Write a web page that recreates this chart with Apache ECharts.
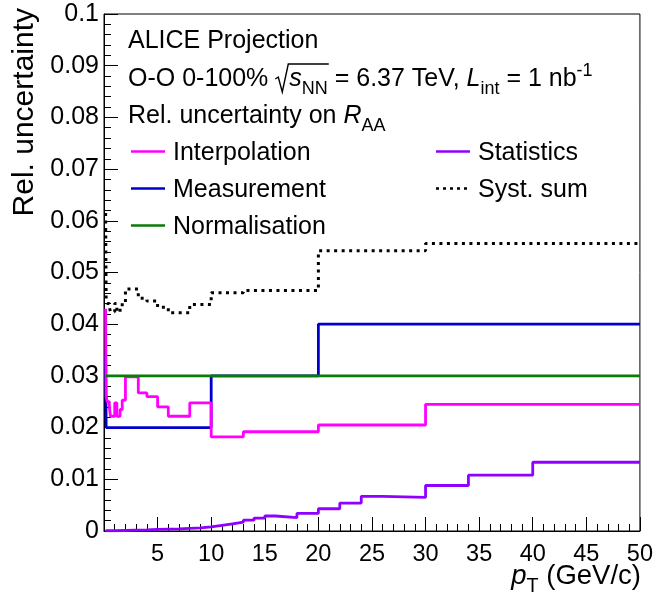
<!DOCTYPE html>
<html>
<head>
<meta charset="utf-8">
<script src="https://cdn.jsdelivr.net/npm/echarts@6/dist/echarts.min.js"></script>
<style>
  html, body { margin: 0; padding: 0; background: #ffffff; }
  #chart { width: 656px; height: 598px; }
</style>
</head>
<body>
<div id="chart"></div>
<script>
// ---- Relative uncertainties on R_AA, O-O 0-100%, per pT bin (GeV/c) ----
const interpEdges = [0.15, 0.2, 0.3, 0.5, 0.6, 1.0, 1.2, 1.5, 1.7, 2.0, 3.2, 4.0, 5.0, 6.0, 8.0, 10, 13, 20, 30, 50];
const interpValues = [0.043, 0.026, 0.025, 0.024, 0.0222, 0.0248, 0.0222, 0.0235, 0.0253, 0.0298, 0.0267, 0.026, 0.024, 0.0222, 0.0248, 0.0182, 0.0192, 0.0205, 0.0245];

const systEdges = [0.15, 0.2, 0.3, 0.5, 0.6, 1.0, 1.2, 1.5, 1.7, 2.0, 3.2, 4.0, 5.0, 6.0, 8.0, 10, 13, 20, 30, 50];
const systValues = [0.0615, 0.0447, 0.0440, 0.0433, 0.0424, 0.0440, 0.0424, 0.0432, 0.0442, 0.0468, 0.0450, 0.0445, 0.0433, 0.0422, 0.0438, 0.0461, 0.0465, 0.0542, 0.0556];

const measEdges = [0.15, 0.2, 10, 20, 50];
const measValues = [0.034, 0.020, 0.030, 0.040];

const normEdges = [0.15, 50];
const normValues = [0.030];

const statEdges = [0.15, 1, 2, 3, 4, 5, 6, 7, 8, 9, 10, 11, 12, 13, 14, 15, 16, 18, 20, 22, 24, 26, 30, 34, 40, 50];
const statValues = [0.00005, 0.0001, 0.00015, 0.0002, 0.0003, 0.00035, 0.0004, 0.0005, 0.0006, 0.0008, 0.0011, 0.0014, 0.0017, 0.0021, 0.0025, 0.0029, 0.0026, 0.0034, 0.0043, 0.0054, 0.0067, 0.0065, 0.0088, 0.0108, 0.0133];

const xTicks = [0, 5, 10, 15, 20, 25, 30, 35, 40, 45, 50];
const yTickLabels = ['0', '0.01', '0.02', '0.03', '0.04', '0.05', '0.06', '0.07', '0.08', '0.09', '0.1'];

// ---- styling ----
const FONT = '"Liberation Sans", Arial, Helvetica, sans-serif';
const COL = {
  interp: '#ff00ff',
  meas: '#0000cc',
  norm: '#0a7a0a',
  stat: '#8f00ff',
  syst: '#000000'
};

// histogram bins -> step-line points (value held until the next edge)
function stepData(edges, values) {
  const pts = values.map((v, i) => [edges[i], v]);
  pts.push([edges[edges.length - 1], values[values.length - 1]]);
  return pts;
}

// text measurement for laying out runs with sub/superscripts
const mctx = document.createElement('canvas').getContext('2d');
function textWidth(t, size, italic) {
  mctx.font = (italic ? 'italic ' : '') + size + 'px "Liberation Sans"';
  return mctx.measureText(t).width;
}
function textEl(t, x, baseline, size, italic, extra) {
  return Object.assign({
    type: 'text', silent: true, x: x, y: baseline - 0.3465 * size,
    style: {
      text: t, fontSize: size, fontFamily: FONT,
      fontStyle: italic ? 'italic' : 'normal', fill: '#000',
      align: 'left', verticalAlign: 'middle'
    }
  }, extra || {});
}
// lay out a run of pieces starting at x0 on the given baseline
function runText(x0, baseline, size, pieces) {
  const els = [];
  let x = x0;
  pieces.forEach(p => {
    if (p.rad) {
      // radical sign with an overbar spanning the following pieces
      let span = 0;
      p.under.forEach(q => {
        const qs = size * (q.scale || 1);
        span += textWidth(q.t, qs, q.italic);
      });
      const rw = 13;
      els.push({
        type: 'polyline', silent: true,
        shape: { points: [
          [x, baseline - 9], [x + 3, baseline - 11], [x + 7, baseline + 4],
          [x + rw, baseline - 24], [x + rw + span + 2, baseline - 24]
        ] },
        style: { stroke: '#000', lineWidth: 1.4, fill: null }
      });
      x += rw + 1;
      p.under.forEach(q => {
        const qs = size * (q.scale || 1);
        els.push(textEl(q.t, x, baseline + (q.dy || 0) * size, qs, q.italic));
        x += textWidth(q.t, qs, q.italic);
      });
      return;
    }
    const s = size * (p.scale || 1);
    els.push(textEl(p.t, x, baseline + (p.dy || 0) * size, s, p.italic));
    x += textWidth(p.t, s, p.italic);
  });
  return { els: els, end: x };
}

const SUB = { scale: 0.72, dy: 0.28 };
const SUP = { scale: 0.72, dy: -0.42 };
const F = 25;

const graphics = [];
// header lines
graphics.push(...runText(128, 50, F, [{ t: 'ALICE Projection' }]).els);
graphics.push(...runText(128, 88, F, [
  { t: 'O-O 0-100% ' },
  { rad: true, under: [{ t: 's', italic: true }, Object.assign({ t: 'NN' }, SUB)] },
  { t: ' = 6.37 TeV, ' },
  { t: 'L', italic: true },
  Object.assign({ t: 'int' }, SUB),
  { t: ' = 1 nb' },
  Object.assign({ t: '-1' }, SUP)
]).els);
graphics.push(...runText(128, 125, F, [
  { t: 'Rel. uncertainty on ' },
  { t: 'R', italic: true },
  Object.assign({ t: 'AA' }, SUB)
]).els);

// legend entries: [label, colour, dashed, x of sample, baseline]
const legendEntries = [
  ['Interpolation', COL.interp, false, 131, 162],
  ['Measurement', COL.meas, false, 131, 199],
  ['Normalisation', COL.norm, false, 131, 236],
  ['Statistics', COL.stat, false, 436, 162],
  ['Syst. sum', COL.syst, true, 436, 199]
];
legendEntries.forEach(([label, col, dashed, lx, base]) => {
  graphics.push({
    type: 'line', silent: true,
    shape: { x1: lx, y1: base - 10.5, x2: lx + 34, y2: base - 10.5 },
    style: { stroke: col, lineWidth: 2.5, lineDash: dashed ? [3, 4] : null }
  });
  graphics.push(...runText(lx + 42, base, F, [{ t: label }]).els);
});

// axis titles
const YT = 30;
graphics.push({
  type: 'text', silent: true, x: 25, y: 8, rotation: Math.PI / 2,
  style: { text: 'Rel. uncertainty', fontSize: YT, fontFamily: FONT, fill: '#000', align: 'right', verticalAlign: 'middle' }
});
(function () {
  const XT = 27.5;
  const w = textWidth('p', XT, true) + textWidth('T', XT * 0.72, false) + textWidth(' (GeV/c)', XT, false);
  graphics.push(...runText(641 - w, 586, XT, [
    { t: 'p', italic: true },
    Object.assign({ t: 'T' }, SUB),
    { t: ' (GeV/c)' }
  ]).els);
})();

const chart = echarts.init(document.getElementById('chart'), null, { renderer: 'canvas' });

function histSeries(name, edges, values, color, dotted) {
  return {
    name: name, type: 'line', step: 'end', showSymbol: false, symbol: 'none',
    data: stepData(edges, values),
    lineStyle: { color: color, width: dotted ? 3 : 2.8, type: dotted ? [3, 4.5] : 'solid', cap: 'butt' },
    animation: false, silent: true
  };
}

chart.setOption({
  animation: false,
  backgroundColor: '#ffffff',
  grid: { left: 104, right: 13, top: 14, bottom: 67, show: true, borderColor: '#000', borderWidth: 1, backgroundColor: 'transparent' },
  xAxis: {
    type: 'value', min: xTicks[0], max: xTicks[xTicks.length - 1], interval: 5,
    axisLine: { show: true, onZero: false, lineStyle: { color: '#000', width: 1 } },
    axisTick: { show: true, inside: true, length: 14, lineStyle: { color: '#000' } },
    minorTick: { show: true, splitNumber: 5, length: 7, lineStyle: { color: '#000' } },
    splitLine: { show: false },
    axisLabel: {
      margin: 12, fontSize: 23.5, fontFamily: FONT, color: '#000',
      formatter: v => (v === 0 ? '' : String(v))
    }
  },
  yAxis: {
    type: 'value', min: 0, max: 0.1, interval: 0.01,
    axisLine: { show: true, onZero: false, lineStyle: { color: '#000', width: 1 } },
    axisTick: { show: true, inside: true, length: 14, lineStyle: { color: '#000' } },
    minorTick: { show: true, splitNumber: 5, length: 7, lineStyle: { color: '#000' } },
    splitLine: { show: false },
    axisLabel: {
      margin: 5, fontSize: 25, fontFamily: FONT, color: '#000',
      formatter: v => yTickLabels[Math.round(v * 100)]
    }
  },
  series: [
    histSeries('Measurement', measEdges, measValues, COL.meas, false),
    histSeries('Interpolation', interpEdges, interpValues, COL.interp, false),
    histSeries('Normalisation', normEdges, normValues, COL.norm, false),
    histSeries('Statistics', statEdges, statValues, COL.stat, false),
    histSeries('Syst. sum', systEdges, systValues, COL.syst, true)
  ],
  graphic: graphics
});
</script>
</body>
</html>
